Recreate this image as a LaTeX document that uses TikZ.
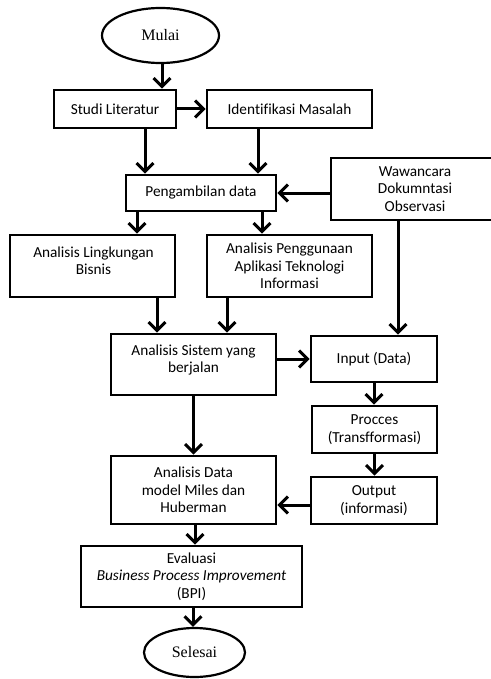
\documentclass[tikz,border=0pt]{standalone}
\usepackage{fontspec}
\setmainfont{Carlito}[Ligatures=NoCommon]
\newfontfamily\serifx{Liberation Serif}
\usetikzlibrary{arrows.meta,shapes.geometric}
\tikzset{
  box/.style={draw=black,line width=2.6pt,rectangle,inner sep=0pt,align=center,
    font=\fontsize{15.3}{17.5}\selectfont},
  term/.style={draw=black,line width=2.2pt,ellipse,inner sep=0pt,
    font=\serifx\fontsize{16}{18}\selectfont},
  txt/.style={inner sep=0pt,align=center,font=\fontsize{15.3}{17}\selectfont},
  arr/.style={line width=3pt,-{Straight Barb[length=8.5pt,width=17pt]}},
}
\begin{document}
\begin{tikzpicture}[x=1pt,y=-1pt]
\useasboundingbox (0,0) rectangle (490,679);
% terminals
\node[term,minimum width=117,minimum height=55] (mulai) at (160.5,35.5) {Mulai};
\node[term,minimum width=101,minimum height=49] (selesai) at (194.5,652.5) {Selesai};
% boxes
\node[box,minimum width=122,minimum height=38] (studi) at (115,109) {Studi Literatur};
\node[box,minimum width=165,minimum height=38] (ident) at (289.5,109) {Identifikasi Masalah};
\node[box,minimum width=150,minimum height=36] (peng) at (201,193) {Pengambilan data};
\node[box,minimum width=168,minimum height=62] (waw) at (415,189) {Wawancara\\Dokumntasi\\Observasi};
\node[box,minimum width=165,minimum height=62] (ling) at (92.5,266) {};
\node[txt] at (93.5,260.5) {Analisis Lingkungan\\Bisnis};
\node[box,minimum width=165,minimum height=62] (pengg) at (289.5,266) {Analisis Penggunaan\\Aplikasi Teknologi\\Informasi};
\node[box,minimum width=165,minimum height=61] (sistem) at (193.5,364.5) {};
\node[txt] at (193.5,359.5) {Analisis Sistem yang\\berjalan};
\node[box,minimum width=126,minimum height=46] (input) at (374,359) {Input (Data)};
\node[box,minimum width=125,minimum height=47] (proc) at (374.5,429.5) {Procces\\(Transfformasi)};
\node[box,minimum width=165,minimum height=68] (adata) at (193.5,490) {Analisis Data\\model Miles dan\\Huberman};
\node[box,minimum width=126,minimum height=47] (output) at (374,500.5) {Output\\(informasi)};
\node[box,minimum width=221,minimum height=61] (eval) at (191.5,576.5) {Evaluasi\\\textit{Business Process Improvement}\\(BPI)};
% connectors
\draw[arr] ([xshift=1.5pt]mulai.south) -- ([xshift=1.5pt]mulai.south |- studi.north);
\draw[arr] (studi.east) -- (ident.west);
\draw[arr] ([xshift=30pt]studi.south) -- ([xshift=30pt]studi.south |- peng.north);
\draw[arr] ([xshift=-31.5pt]ident.south) -- ([xshift=-31.5pt]ident.south |- peng.north);
\draw[arr] (waw.west |- peng.east) -- (peng.east);
\draw[arr] ([xshift=-64pt]peng.south) -- ([xshift=-64pt]peng.south |- ling.north);
\draw[arr] ([xshift=61pt]peng.south) -- ([xshift=61pt]peng.south |- pengg.north);
\draw[arr] ([xshift=-17pt]waw.south) -- ([xshift=-17pt]waw.south |- input.north);
\draw[arr] ([xshift=64.5pt]ling.south) -- ([xshift=64.5pt]ling.south |- sistem.north);
\draw[arr] ([xshift=-62.5pt]pengg.south) -- ([xshift=-62.5pt]pengg.south |- sistem.north);
\draw[arr] (sistem.east |- input.west) -- (input.west);
\draw[arr] (input.south) -- (input.south |- proc.north);
\draw[arr] (sistem.south) -- (adata.north);
\draw[arr] (proc.south) -- (proc.south |- output.north);
\draw[arr] (output.west |- 0,505) -- (adata.east |- 0,505);
\draw[arr] ([xshift=1.5pt]adata.south) -- ([xshift=1.5pt]adata.south |- eval.north);
\draw[arr] ([xshift=1.5pt]eval.south) -- ([xshift=1.5pt]eval.south |- selesai.north);
\end{tikzpicture}
\end{document}
